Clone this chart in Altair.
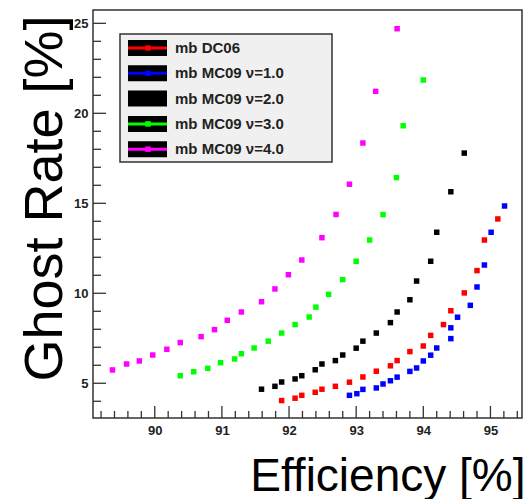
import altair as alt
import pandas as pd

# Ghost rate versus tracking efficiency for the min-bias samples
series_names = ["mb DC06", "mb MC09 ν=1.0", "mb MC09 ν=2.0", "mb MC09 ν=3.0", "mb MC09 ν=4.0"]
series_colors = ["#ff0000", "#0000ff", "#000000", "#00ff00", "#ff00ff"]

eff_dc06 = [91.89, 92.09, 92.19, 92.39, 92.49, 92.69, 92.90, 93.10, 93.30, 93.51,
            93.61, 93.80, 94.00, 94.11, 94.30, 94.41, 94.61, 94.80, 94.91, 95.11]
ghost_dc06 = [4.04, 4.17, 4.33, 4.50, 4.67, 4.83, 5.06, 5.35, 5.67, 5.97,
              6.26, 6.76, 7.07, 7.66, 8.26, 9.03, 10.02, 11.26, 12.96, 14.13]

eff_nu1 = [92.90, 93.01, 93.10, 93.30, 93.40, 93.51, 93.61, 93.80, 93.90, 94.00,
           94.11, 94.20, 94.41, 94.41, 94.51, 94.70, 94.80, 94.91, 95.01, 95.21]
ghost_nu1 = [4.33, 4.42, 4.66, 4.74, 4.96, 5.14, 5.34, 5.66, 5.85, 6.24,
             6.56, 6.96, 7.48, 8.08, 8.67, 9.33, 10.35, 11.57, 13.39, 14.85]

eff_nu2 = [91.59, 91.79, 91.89, 92.09, 92.19, 92.39, 92.49, 92.69, 92.80, 93.00,
           93.10, 93.30, 93.51, 93.61, 93.80, 93.90, 94.11, 94.20, 94.41, 94.61]
ghost_nu2 = [4.67, 4.83, 5.07, 5.24, 5.42, 5.75, 6.07, 6.26, 6.57, 6.95,
             7.34, 7.79, 8.37, 8.96, 9.64, 10.68, 11.78, 13.39, 15.64, 17.79]

eff_nu3 = [90.38, 90.58, 90.79, 90.98, 91.19, 91.29, 91.48, 91.69, 91.89, 92.09,
           92.30, 92.40, 92.59, 92.80, 93.00, 93.20, 93.40, 93.60, 93.70, 94.00]
ghost_nu3 = [5.42, 5.64, 5.83, 6.14, 6.35, 6.64, 6.96, 7.34, 7.79, 8.26,
             8.68, 9.23, 9.94, 10.76, 11.78, 12.96, 14.37, 16.43, 19.31, 21.85]

eff_nu4 = [89.37, 89.58, 89.77, 89.97, 90.18, 90.38, 90.69, 90.89, 91.08, 91.29,
           91.59, 91.79, 91.99, 92.19, 92.49, 92.70, 92.90, 93.10, 93.29, 93.61]
ghost_nu4 = [5.74, 6.07, 6.24, 6.57, 6.89, 7.26, 7.59, 7.98, 8.50, 8.96,
             9.53, 10.24, 11.03, 11.85, 13.09, 14.38, 16.06, 18.35, 21.22, 24.70]

x_domain = [89.08, 95.47]
y_domain = [3.07, 25.74]
x_major = [90, 91, 92, 93, 94, 95]
x_minor = [round(89.2 + 0.2 * i, 1) for i in range(32)]
x_minor = [v for v in x_minor if abs(v - round(v)) > 1e-6]
y_major = [5, 10, 15, 20, 25]
y_minor = [v for v in range(4, 26) if v % 5 != 0]

W, H = 429, 408
FONT = "Liberation Sans"
FRAME = "#333333"

all_eff = [eff_dc06, eff_nu1, eff_nu2, eff_nu3, eff_nu4]
all_ghost = [ghost_dc06, ghost_nu1, ghost_nu2, ghost_nu3, ghost_nu4]
rows = []
for name, xs, ys in zip(series_names, all_eff, all_ghost):
    for xv, yv in zip(xs, ys):
        rows.append({"series": name, "eff": xv, "ghost": yv})
points_df = pd.DataFrame(rows)

xscale = alt.Scale(domain=x_domain, nice=False, zero=False)
yscale = alt.Scale(domain=y_domain, nice=False, zero=False)

x_axis = alt.Axis(values=x_major, format="d", ticks=False, domain=False, grid=False,
                  labelFont=FONT, labelFontSize=13, labelFontWeight="bold",
                  labelColor="#222", labelPadding=6,
                  title="Efficiency [%]", titleFont=FONT, titleFontSize=46,
                  titleFontWeight="normal", titleColor="#000",
                  titleAlign="right", titleBaseline="alphabetic",
                  titleX=432, titleY=72)
y_axis = alt.Axis(values=y_major, format="d", ticks=False, domain=False, grid=False,
                  labelFont=FONT, labelFontSize=13, labelFontWeight="bold",
                  labelColor="#222", labelPadding=5,
                  title="Ghost Rate [%]", titleFont=FONT, titleFontSize=54,
                  titleFontWeight="normal", titleColor="#000",
                  titleAngle=270, titleAlign="center", titleBaseline="alphabetic",
                  titleX=-32, titleY=188)

points = alt.Chart(points_df).mark_square(size=30, opacity=1).encode(
    x=alt.X("eff:Q", scale=xscale, axis=x_axis),
    y=alt.Y("ghost:Q", scale=yscale, axis=y_axis),
    color=alt.Color("series:N", scale=alt.Scale(domain=series_names, range=series_colors),
                    legend=None),
)

# Inward-pointing frame ticks (same fields as the data so the axes merge)
def x_ticks(values, length):
    return alt.Chart(pd.DataFrame({"eff": values})).mark_rule(
        color=FRAME, strokeWidth=1.3).encode(
        x=alt.X("eff:Q", scale=xscale, axis=x_axis),
        y=alt.value(H), y2=alt.value(H - length))


def y_ticks(values, length):
    return alt.Chart(pd.DataFrame({"ghost": values})).mark_rule(
        color=FRAME, strokeWidth=1.3).encode(
        y=alt.Y("ghost:Q", scale=yscale, axis=y_axis),
        x=alt.value(0), x2=alt.value(length))


tick_layers = [x_ticks(x_major, 12), x_ticks(x_minor, 7),
               y_ticks(y_major, 13), y_ticks(y_minor, 8)]

# Legend box drawn in the top-left corner of the frame
one = pd.DataFrame({"a": [0]})
legend_layers = [
    alt.Chart(one).mark_rect(fill="#f0f0f0", stroke=FRAME, strokeWidth=1.5).encode(
        x=alt.value(27), x2=alt.value(239), y=alt.value(24), y2=alt.value(152))
]
for i, (label, color) in enumerate(zip(series_names, series_colors)):
    row_y = 38 + 25.3 * i
    legend_layers += [
        alt.Chart(one).mark_rect(color="#000").encode(
            x=alt.value(35), x2=alt.value(74),
            y=alt.value(row_y - 8), y2=alt.value(row_y + 8)),
        alt.Chart(one).mark_rule(color=color, strokeWidth=3).encode(
            x=alt.value(35), x2=alt.value(74), y=alt.value(row_y)),
        alt.Chart(one).mark_square(color=color, size=30, opacity=1).encode(
            x=alt.value(55), y=alt.value(row_y)),
        alt.Chart(one).mark_text(align="left", baseline="middle", font=FONT, fontSize=15,
                                 fontWeight="bold", color="#222", text=label).encode(
            x=alt.value(82), y=alt.value(row_y)),
    ]

chart = alt.layer(
    points, *tick_layers, *legend_layers
).properties(
    width=W, height=H,
    autosize=alt.AutoSizeParams(type="none"),
    padding={"left": 93, "top": 10, "right": 8, "bottom": 81},
    background="#ffffff",
).configure_view(stroke=FRAME, strokeWidth=1.5)

chart.save("out.html", embed_options={"renderer": "svg", "actions": False})
